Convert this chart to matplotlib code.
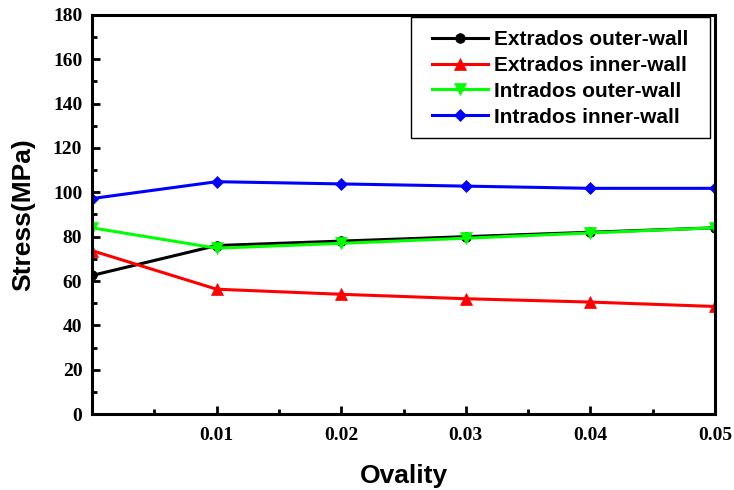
import matplotlib
matplotlib.use("Agg")
import matplotlib.pyplot as plt
from matplotlib.ticker import MultipleLocator, FixedLocator
from matplotlib.patches import Rectangle

ovality = [0.0, 0.01, 0.02, 0.03, 0.04, 0.05]
extrados_outer = [62.5, 76, 78, 80, 82, 84]
extrados_inner = [73.7, 56.3, 54, 52, 50.5, 48.5]
intrados_outer = [84, 74.8, 77, 79.3, 81.7, 84]
intrados_inner = [97.2, 104.8, 103.8, 102.8, 101.8, 101.8]
xtick_vals = [0.01, 0.02, 0.03, 0.04, 0.05]
xtick_labels = ["0.01", "0.02", "0.03", "0.04", "0.05"]
ytick_vals = [0, 20, 40, 60, 80, 100, 120, 140, 160, 180]

series = [
    ("Extrados outer-wall", extrados_outer, "#000000", "o", 7),
    ("Extrados inner-wall", extrados_inner, "#FF0000", "^", 8.5),
    ("Intrados outer-wall", intrados_outer, "#00FF00", "v", 8.5),
    ("Intrados inner-wall", intrados_inner, "#0000FF", "D", 5.8),
]

W, H = 734, 490
fig = plt.figure(figsize=(W/100, H/100), dpi=100)
ax = fig.add_axes([92/W, 1 - 414/H, (715 - 92)/W, (414 - 15)/H])

for i, (label, vals, color, marker, ms) in enumerate(series):
    ax.plot(ovality, vals, color=color, marker=marker, markersize=ms,
            markeredgewidth=0.5, linewidth=2.2, label=label, zorder=2 + i)

ax.set_xlim(0, 0.05)
ax.set_ylim(0, 180)
ax.xaxis.set_major_locator(FixedLocator(xtick_vals))
ax.set_xticklabels(xtick_labels)
ax.xaxis.set_minor_locator(MultipleLocator(0.005))
ax.yaxis.set_major_locator(FixedLocator(ytick_vals))
ax.yaxis.set_minor_locator(MultipleLocator(10))

ax.tick_params(which="both", direction="in", top=False, right=False, width=2)
ax.tick_params(which="major", length=6)
ax.tick_params(which="minor", length=3.5)
ax.tick_params(axis="x", which="major", pad=9)
ax.tick_params(axis="y", which="major", pad=7)
for lab in ax.get_xticklabels() + ax.get_yticklabels():
    lab.set_fontfamily("Liberation Serif")
    lab.set_fontweight("bold")
    lab.set_fontsize(14)
for sp in ax.spines.values():
    sp.set_linewidth(2.2)
    sp.set_zorder(10)

ax.set_xlabel("Ovality", fontfamily="Liberation Sans", fontweight="bold",
              fontsize=19, labelpad=15)
ax.set_ylabel("Stress(MPa)", fontfamily="Liberation Sans", fontweight="bold",
              fontsize=19, labelpad=13)

leg = ax.legend(loc="upper left",
                bbox_to_anchor=(432/W, 1 - 30/H),
                bbox_transform=fig.transFigure, borderaxespad=0,
                prop={"family": "Liberation Sans", "weight": "bold", "size": 15},
                frameon=False, handlelength=2.7,
                handletextpad=0.3, labelspacing=0.33, borderpad=0)

fig.add_artist(Rectangle((411/W, 1 - 138/H), (710 - 411)/W, (138 - 17)/H,
                         transform=fig.transFigure, fill=False,
                         edgecolor="black", linewidth=1.0))

fig.savefig("out.png", dpi=100)
